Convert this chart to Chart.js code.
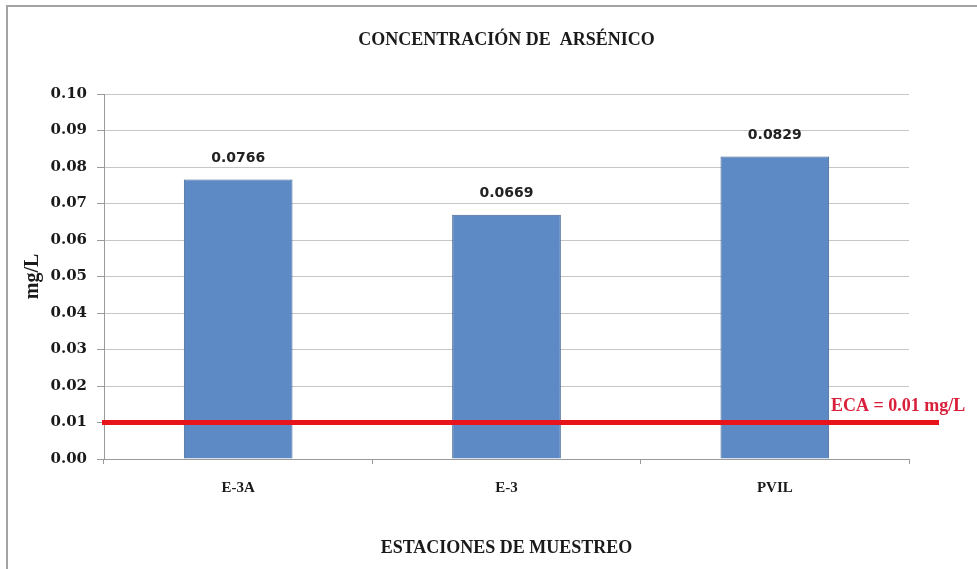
<!DOCTYPE html>
<html>
<head>
<meta charset="utf-8">
<script src="https://cdn.jsdelivr.net/npm/chart.js@4.4.1/dist/chart.umd.min.js"></script>
<style>
  html, body { margin: 0; padding: 0; background: #ffffff; width: 977px; height: 569px; overflow: hidden; }
  #frame { position: absolute; left: 6px; top: 5px; width: 1000px; height: 600px;
           border-left: 2px solid #a3a3a3; border-top: 2px solid #a3a3a3; }
  #c { position: absolute; left: 0; top: 0; }
</style>
</head>
<body>
<div id="frame"></div>
<canvas id="c" width="977" height="569"></canvas>
<script>
// ---- data ----
const categories = ['E-3A', 'E-3', 'PVIL'];
const arsenicValues = [0.0766, 0.0669, 0.0829];
const ecaLimit = 0.01;
const ecaLabel = 'ECA = 0.01 mg/L';
const chartTitle = 'CONCENTRACIÓN DE  ARSÉNICO';
const xAxisTitle = 'ESTACIONES DE MUESTREO';
const yAxisTitle = 'mg/L';
const yMin = 0, yMax = 0.10, yStep = 0.01;

const serif = '"Liberation Serif", "Times New Roman", serif';

const valueLabels = {
  id: 'valueLabels',
  afterDatasetsDraw(chart) {
    const ctx = chart.ctx;
    const meta = chart.getDatasetMeta(0);
    ctx.save();
    ctx.font = 'bold 14px "DejaVu Sans", sans-serif';
    ctx.fillStyle = '#222222';
    ctx.textAlign = 'center';
    ctx.textBaseline = 'middle';
    meta.data.forEach((bar, i) => {
      ctx.fillText(arsenicValues[i].toFixed(4), bar.x, bar.y - 21);
    });
    ctx.restore();
  }
};

const ecaLine = {
  id: 'ecaLine',
  afterDatasetsDraw(chart) {
    const ctx = chart.ctx;
    const y = chart.scales.y.getPixelForValue(ecaLimit);
    const area = chart.chartArea;
    ctx.save();
    ctx.strokeStyle = '#e8141c';
    ctx.lineWidth = 5;
    ctx.beginPath();
    ctx.moveTo(area.left - 2, y);
    ctx.lineTo(area.right + 30, y);
    ctx.stroke();
    ctx.font = 'bold 18px ' + serif;
    ctx.fillStyle = '#d9203a';
    ctx.textAlign = 'left';
    ctx.textBaseline = 'middle';
    ctx.fillText(ecaLabel, area.right - 78, y - 16);
    ctx.restore();
  }
};

new Chart(document.getElementById('c'), {
  type: 'bar',
  data: {
    labels: categories,
    datasets: [{
      label: 'Arsénico',
      data: arsenicValues,
      backgroundColor: '#5d89c4',
      borderColor: '#3f6494',
      borderWidth: 1,
      barPercentage: 0.405,
      categoryPercentage: 1.0
    }]
  },
  options: {
    responsive: false,
    maintainAspectRatio: false,
    animation: false,
    layout: { padding: { left: 0, right: 68, top: 0, bottom: 0 } },
    plugins: {
      legend: { display: false },
      tooltip: { enabled: false },
      title: {
        display: true,
        text: chartTitle,
        fullSize: false,
        color: '#1a1a1a',
        font: { family: serif, size: 18, weight: 'bold', lineHeight: 1.2 },
        padding: { top: 30, bottom: 42.4 }
      }
    },
    scales: {
      x: {
        type: 'category',
        offset: true,
        afterFit(scale) { scale.height = 110; },
        grid: { display: true, drawOnChartArea: false, drawTicks: true, tickLength: 5, offset: true, color: '#9a9a9a' },
        border: { display: true, color: '#9a9a9a', width: 1 },
        ticks: { color: '#1a1a1a', padding: 15, font: { family: serif, size: 15, weight: 'bold' } },
        title: {
          display: true,
          text: xAxisTitle,
          color: '#1a1a1a',
          font: { family: serif, size: 18, weight: 'bold', lineHeight: 1.2 },
          padding: { top: 0, bottom: 10 }
        }
      },
      y: {
        min: yMin,
        max: yMax,
        afterFit(scale) { scale.width = 104; },
        grid: { color: '#c6c6c6', lineWidth: 1, tickLength: 7, tickColor: '#9a9a9a' },
        border: { display: true, color: '#9a9a9a', width: 1 },
        ticks: {
          stepSize: yStep,
          padding: 10,
          color: '#1a1a1a',
          font: { family: '"DejaVu Serif", serif', size: 15, weight: 'bold' },
          callback: (v) => Number(v).toFixed(2)
        },
        title: {
          display: true,
          text: yAxisTitle,
          color: '#1a1a1a',
          font: { family: serif, size: 20, weight: 'bold', lineHeight: 1.2 },
          padding: { top: 21, bottom: 0 }
        }
      }
    }
  },
  plugins: [valueLabels, ecaLine]
});
</script>
</body>
</html>
